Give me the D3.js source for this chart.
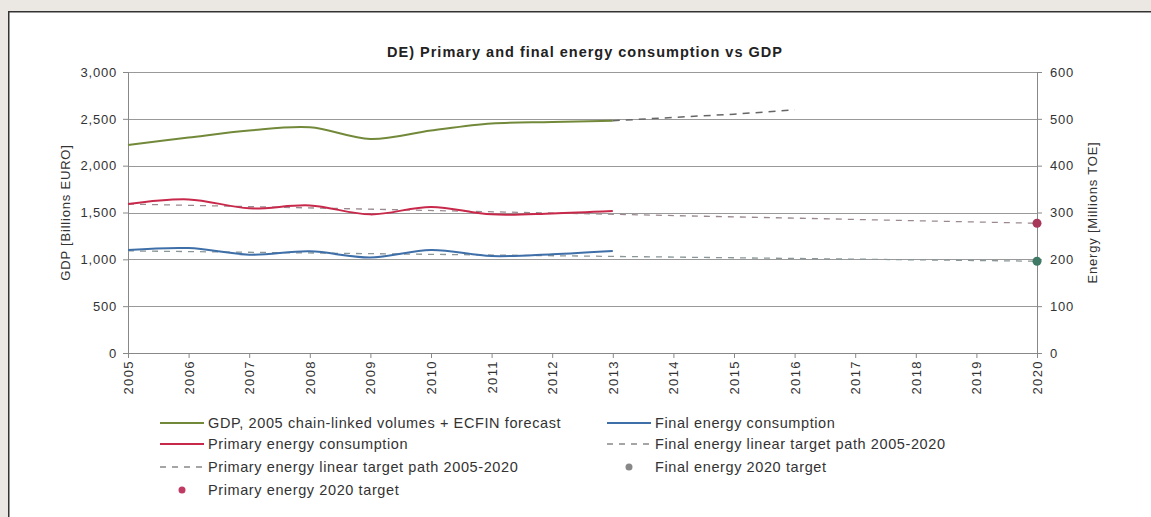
<!DOCTYPE html>
<html lang="en">
	<head>
		<meta charset="utf-8">
		<title>DE energy vs GDP</title>
		<script type="text/javascript" src="https://cdn.jsdelivr.net/npm/d3@7"></script>
		<style>
			html,body{
				margin:0;
				overflow:hidden;
				background-color:#ebe8e4;
				font-family:"Liberation Sans", Arial, sans-serif;
			}
			svg{
				display:block;
			}
			.tick text{
				fill:#333;
				font-size:13px;
				letter-spacing:0.8px;
			}
			.xaxis .tick text{
				letter-spacing:1.4px;
			}
		</style>
	</head>
	
	<body>
		<div id="chart"></div>

		<script type="text/javascript">
			
			// data
			var years = [2005,2006,2007,2008,2009,2010,2011,2012,2013,2014,2015,2016,2017,2018,2019,2020]
			var gdpYears = [2005,2006,2007,2008,2009,2010,2011,2012,2013]
			var gdp = [2220,2300,2375,2410,2285,2375,2450,2465,2480]
			var gdpForecastYears = [2013,2014,2015,2016]
			var gdpForecast = [2480,2515,2550,2595]
			
			var energyYears = [2005,2006,2007,2008,2009,2010,2011,2012,2013]
			var primary = [318,328,309,315,296,312,296,298,303]
			var finalEnergy = [220,224,210,217,204,220,207,211,218]
			
			var targetYears = [2005,2020]
			var primaryPath = [318,277]
			var finalPath = [218,196]
			var primaryTarget = 277
			var finalTarget = 196
			
			var leftTicks = [0,500,1000,1500,2000,2500,3000]
			var rightTicks = [0,100,200,300,400,500,600]
			
			var W = 1151
			var H = 517
			var pLeft = 128, pRight = 1037, pTop = 72, pBottom = 353
			
			var svg = d3.select("#chart").append("svg")
			.attr("width",W)
			.attr("height",H)
			
			// white panel, border only on top and left (it runs off the picture)
			svg.append("rect")
			.attr("x",8)
			.attr("y",11)
			.attr("width",W-8)
			.attr("height",H-11)
			.attr("fill","white")
			
			svg.append("path")
			.attr("d","M8.75," + H + "V11.75H" + W)
			.attr("fill","none")
			.attr("stroke","#333")
			.attr("stroke-width",1.5)
			
			var x = d3.scaleLinear().domain([2005,2020]).range([pLeft,pRight])
			var yL = d3.scaleLinear().domain([0,3000]).range([pBottom,pTop])
			var yR = d3.scaleLinear().domain([0,600]).range([pBottom,pTop])
			
			// gridlines
			svg.append("g")
			.selectAll("line")
			.data(leftTicks.slice(1))
			.enter()
			.append("line")
			.attr("x1",pLeft)
			.attr("x2",pRight)
			.attr("y1",function(d){return Math.round(yL(d))+0.5})
			.attr("y2",function(d){return Math.round(yL(d))+0.5})
			.attr("stroke","#999")
			.attr("stroke-width",1)
			
			// axes
			svg.append("g")
			.attr("transform","translate("+pLeft+",0)")
			.call(d3.axisLeft(yL).tickValues(leftTicks).tickSize(5).tickPadding(6).tickFormat(d3.format(",")))
			
			svg.append("g")
			.attr("transform","translate("+pRight+",0)")
			.call(d3.axisRight(yR).tickValues(rightTicks).tickSize(5).tickPadding(8))
			
			var axisB = svg.append("g")
			.attr("class","xaxis")
			.attr("transform","translate(0,"+pBottom+")")
			.call(d3.axisBottom(x).tickValues(years).tickSize(5).tickFormat(d3.format("d")))
			
			axisB.selectAll("text")
			.attr("transform","rotate(-90)")
			.attr("x",-7)
			.attr("y",0)
			.attr("dy","0.35em")
			.style("text-anchor","end")
			
			svg.selectAll(".domain").attr("stroke","#888")
			svg.selectAll(".tick line").attr("stroke","#888")
			
			// titles
			svg.append("text")
			.attr("x",585)
			.attr("y",57)
			.attr("text-anchor","middle")
			.attr("font-size",14.5)
			.attr("font-weight","bold")
			.attr("letter-spacing",1)
			.attr("fill","#222")
			.text("DE) Primary and final energy consumption vs GDP")
			
			svg.append("text")
			.attr("transform","translate(70,"+((pTop+pBottom)/2)+") rotate(-90)")
			.attr("text-anchor","middle")
			.attr("font-size",13)
			.attr("letter-spacing",0.8)
			.attr("fill","#333")
			.text("GDP [Billions EURO]")
			
			svg.append("text")
			.attr("transform","translate(1097,"+((pTop+pBottom)/2)+") rotate(-90)")
			.attr("text-anchor","middle")
			.attr("font-size",13)
			.attr("letter-spacing",0.8)
			.attr("fill","#333")
			.text("Energy [Millions TOE]")
			
			// lines
			var curve = d3.curveCardinal.tension(0)
			
			function drawLine(xs,ys,scale,color,width,dash,smooth){
				var line = d3.line()
				.x(function(d,i){return x(xs[i])})
				.y(function(d){return scale(d)})
				if(smooth) line.curve(curve)
				svg.append("path")
				.datum(ys)
				.attr("d",line)
				.attr("fill","none")
				.attr("stroke",color)
				.attr("stroke-width",width)
				.attr("stroke-dasharray",dash)
			}
			
			drawLine(targetYears,primaryPath,yR,"#9a8a90",1.3,"6,6",false)
			drawLine(targetYears,finalPath,yR,"#8a9698",1.3,"6,6",false)
			drawLine(gdpYears,gdp,yL,"#73893a",2,null,true)
			drawLine(gdpForecastYears,gdpForecast,yL,"#666",1.5,"7,6",false)
			drawLine(energyYears,primary,yR,"#c8284a",2,null,true)
			drawLine(energyYears,finalEnergy,yR,"#3f6fa8",2,null,true)
			
			svg.append("circle")
			.attr("cx",x(2020))
			.attr("cy",yR(primaryTarget))
			.attr("r",4.5)
			.attr("fill","#a8385a")
			
			svg.append("circle")
			.attr("cx",x(2020))
			.attr("cy",yR(finalTarget))
			.attr("r",4.5)
			.attr("fill","#3e7a66")
			
			// legend
			var legendItems = [
				{label:"GDP, 2005 chain-linked volumes + ECFIN forecast", type:"line", color:"#73893a", col:0, row:0},
				{label:"Primary energy consumption", type:"line", color:"#c8284a", col:0, row:1},
				{label:"Primary energy linear target path 2005-2020", type:"dash", color:"#888", col:0, row:2},
				{label:"Primary energy 2020 target", type:"dot", color:"#c03a64", col:0, row:3},
				{label:"Final energy consumption", type:"line", color:"#3f6fa8", col:1, row:0},
				{label:"Final energy linear target path 2005-2020", type:"dash", color:"#888", col:1, row:1},
				{label:"Final energy 2020 target", type:"dot", color:"#888", col:1, row:2}
			]
			var colX = [160,607]
			var rowY = [423,444,467,490]
			
			var legend = svg.selectAll(".legend")
			.data(legendItems)
			.enter()
			.append("g")
			.attr("transform",function(d){return "translate("+colX[d.col]+","+rowY[d.row]+")"})
			
			legend.filter(function(d){return d.type!="dot"})
			.append("line")
			.attr("x1",0)
			.attr("x2",44)
			.attr("y1",0)
			.attr("y2",0)
			.attr("stroke",function(d){return d.color})
			.attr("stroke-width",function(d){return d.type=="line"?2:1.3})
			.attr("stroke-dasharray",function(d){return d.type=="dash"?"6,6":null})
			
			legend.filter(function(d){return d.type=="dot"})
			.append("circle")
			.attr("cx",22)
			.attr("cy",0)
			.attr("r",3.5)
			.attr("fill",function(d){return d.color})
			
			legend.append("text")
			.attr("x",48)
			.attr("y",0)
			.attr("dy","0.35em")
			.attr("font-size",14.5)
			.attr("letter-spacing",0.6)
			.attr("fill","#333")
			.text(function(d){return d.label})
			
		</script>
	</body>
</html>
